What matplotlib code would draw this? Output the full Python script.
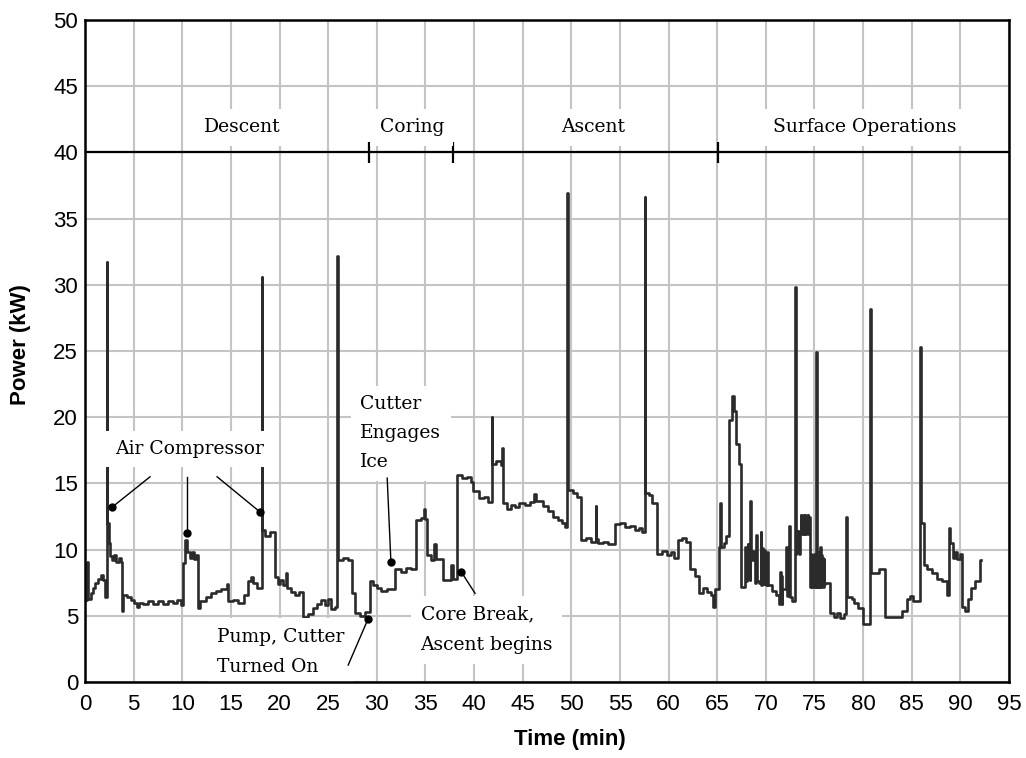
import matplotlib
matplotlib.use("Agg")
import matplotlib.pyplot as plt
from matplotlib import font_manager as fm

# ---------------- data ----------------
descent_t = [0.00, 0.25, 0.35, 0.60, 0.85, 1.05, 1.30, 1.60, 1.85, 2.05, 2.25, 2.30, 2.45, 2.60,
             2.80, 3.00, 3.20, 3.45, 3.65, 3.85, 3.95, 4.35, 4.70, 5.00, 5.30, 5.60, 6.00, 6.50,
             7.00, 7.50, 8.00, 8.50, 9.00, 9.50, 9.90, 10.10, 10.30, 10.50, 10.80, 11.00, 11.20,
             11.40, 11.60, 11.80, 12.40, 13.00, 13.50, 14.00, 14.55, 14.70, 15.20, 15.70, 16.30,
             16.80, 17.10, 17.30, 17.70, 18.15, 18.20, 18.50, 19.00, 19.50, 19.80, 20.10, 20.40,
             20.70, 20.80, 21.20, 21.60, 22.00, 22.40, 22.90, 23.40, 23.90, 24.30, 24.70, 25.00,
             25.30, 25.70, 25.95, 26.00, 26.50, 27.00, 27.50, 27.80, 28.30, 28.80]
descent_p = [6.2, 9.1, 6.3, 6.7, 7.1, 7.5, 7.8, 8.1, 7.7, 6.4, 31.7, 12.0, 10.5, 9.5,
             9.2, 9.6, 9.1, 9.4, 9.1, 5.4, 6.6, 6.4, 6.2, 6.0, 5.7, 6.0, 5.9, 6.1,
             5.9, 6.1, 5.9, 6.1, 6.0, 6.2, 5.8, 9.0, 10.7, 9.8, 9.4, 9.8, 9.3,
             9.6, 5.6, 6.1, 6.4, 6.7, 6.9, 7.0, 7.4, 6.1, 6.2, 6.0, 6.6,
             7.6, 7.9, 7.5, 7.1, 30.6, 11.5, 11.0, 11.3, 7.9, 7.4, 7.7, 7.3,
             8.2, 7.1, 6.8, 6.6, 6.8, 4.9, 5.1, 5.6, 5.9, 6.2, 5.8, 6.3,
             5.5, 5.7, 32.2, 9.2, 9.4, 9.2, 6.7, 5.2, 5.0, 5.3]

coring_t = [29.30, 29.60, 30.00, 30.40, 31.00, 31.90, 32.50, 33.00, 33.50, 34.00, 34.50, 34.90,
            35.00, 35.20, 35.60, 35.90, 36.10, 36.80, 37.60]
coring_p = [7.6, 7.3, 7.1, 6.9, 7.0, 8.5, 8.3, 8.6, 8.5, 12.2, 12.4, 13.1,
            12.3, 9.6, 9.2, 10.4, 9.3, 7.7, 8.8]

ascent_t = [37.80, 38.20, 38.80, 39.30, 39.70, 39.90, 40.50, 41.00, 41.40, 41.80, 41.85, 42.30,
            42.80, 42.90, 43.00, 43.40, 43.80, 44.20, 44.60, 45.20, 45.80, 46.20, 46.40, 47.10,
            47.60, 48.10, 48.60, 49.00, 49.30, 49.60, 49.65, 50.20, 50.60, 51.00, 51.50, 52.00,
            52.50, 52.55, 52.70, 53.30, 53.80, 54.50, 55.00, 55.50, 56.00, 56.50, 57.00, 57.30,
            57.55, 57.60, 58.00, 58.30, 58.80, 59.30, 59.80, 60.30, 60.60, 61.00, 61.40, 61.80,
            62.20, 62.70, 63.10, 63.50, 64.00, 64.40, 64.60, 64.80]
ascent_p = [7.8, 15.6, 15.4, 15.5, 15.1, 14.4, 13.9, 14.0, 13.6, 20.0, 16.5, 16.7,
            16.4, 17.7, 13.5, 13.1, 13.4, 13.2, 13.5, 13.4, 13.6, 14.2, 13.7, 13.3,
            12.9, 12.5, 12.2, 12.0, 11.7, 36.9, 14.5, 14.3, 14.0, 10.7, 10.9, 10.6,
            13.3, 10.8, 10.5, 10.6, 10.4, 11.9, 12.0, 11.7, 11.8, 11.5, 11.6, 11.3,
            36.6, 14.3, 14.1, 13.5, 9.7, 9.9, 9.6, 9.8, 9.4, 10.7, 10.9, 10.6,
            8.5, 8.0, 6.7, 7.1, 6.8, 6.6, 5.7, 7.0]

surface_t = [65.20, 65.30, 65.35, 65.70, 65.90, 66.20, 66.50, 66.70, 66.90, 67.20, 67.40,
             67.90, 67.96, 68.02, 68.08, 68.14, 68.20, 68.26, 68.32, 68.40, 68.45,
             68.51, 68.57, 68.63, 68.69, 68.75, 68.81, 68.90, 69.00, 69.05, 69.30,
             69.50, 69.55, 69.61, 69.67, 69.73, 69.79, 69.85, 69.91, 69.97, 70.03,
             70.09, 70.20, 70.60, 71.00, 71.40, 71.46, 71.52, 71.58, 71.64, 71.70,
             72.10, 72.15, 72.40, 72.45, 72.70, 73.00, 73.05, 73.11, 73.17, 73.23,
             73.29, 73.35, 73.41, 73.47, 73.53, 73.59, 73.65, 73.71, 73.77, 73.83,
             73.89, 73.95, 74.01, 74.07, 74.13, 74.19, 74.25, 74.31, 74.37, 74.43,
             74.55, 74.61, 74.67, 74.73, 74.79, 74.85, 74.91, 74.97, 75.03, 75.10,
             75.15, 75.21, 75.27, 75.33, 75.39, 75.45, 75.51, 75.57, 75.60, 75.66,
             75.72, 75.78, 75.84, 75.90, 75.96, 76.02, 76.10, 76.60, 77.00, 77.30,
             77.60, 78.00, 78.25, 78.30, 78.90, 79.10, 79.50, 80.00, 80.75, 80.85,
             81.60, 82.30, 84.00, 84.50, 84.80, 85.10, 85.85, 85.95, 86.00, 86.30,
             86.60, 87.10, 87.60, 88.10, 88.60, 88.85, 88.95, 89.20, 89.40, 89.70,
             90.00, 90.20, 90.50, 90.80, 91.10, 91.50, 92.05, 92.10]
surface_p = [10.2, 13.5, 10.2, 10.5, 11.0, 19.8, 21.6, 20.5, 18.0, 16.5, 7.2,
             10.2, 7.6, 10.0, 7.8, 10.4, 8.0, 9.9, 7.7, 13.7, 9.8,
             9.2, 9.7, 9.3, 9.9, 9.2, 9.6, 7.5, 11.1, 7.6, 7.5,
             11.3, 7.3, 10.1, 7.5, 9.9, 7.4, 10.0, 7.6, 9.7, 7.3,
             9.8, 7.3, 6.9, 6.6, 5.9, 8.3, 6.0, 8.0, 5.9, 7.0,
             10.2, 6.5, 11.8, 6.4, 6.1, 29.8, 9.7, 11.4, 9.8, 11.3,
             9.9, 11.4, 9.7, 11.2, 11.2, 12.6, 11.3, 12.5, 11.2, 12.6,
             11.4, 12.5, 11.2, 12.6, 11.3, 12.4, 11.2, 12.6, 11.3, 12.5,
             7.2, 9.7, 7.4, 9.6, 7.2, 9.5, 7.3, 9.7, 7.2, 9.4,
             24.9, 7.2, 9.6, 7.3, 9.8, 7.2, 9.5, 7.4, 10.2, 7.2,
             9.6, 7.3, 9.4, 7.2, 9.3, 7.4, 7.5, 5.2, 4.9, 5.2,
             4.8, 5.1, 12.5, 6.4, 6.3, 6.0, 5.6, 4.4, 28.2, 8.2,
             8.5, 4.9, 5.4, 6.3, 6.5, 6.1, 25.3, 25.3, 12.0, 8.8,
             8.5, 8.2, 7.8, 7.6, 6.6, 11.6, 10.5, 9.4, 9.8, 9.3,
             9.7, 5.7, 5.4, 6.3, 7.1, 7.6, 9.2, 9.2]

phase_names = ["Descent", "Coring", "Ascent", "Surface Operations"]
phase_label_t = [16.15, 33.6, 52.2, 80.2]
phase_label_p = 41.9
phase_bounds = [29.2, 37.8, 65.1]
phase_line_p = 40

x_ticks = list(range(0, 96, 5))
y_ticks = list(range(0, 51, 5))

# ---------------- fonts ----------------
available = {f.name for f in fm.fontManager.ttflist}
if "Liberation Sans Narrow" in available:
    tick_font, tick_size = "Liberation Sans Narrow", 18
else:
    tick_font, tick_size = "Liberation Sans", 16
serif = "DejaVu Serif"
note_size = 13.5

# ---------------- figure ----------------
fig = plt.figure(figsize=(10.26, 7.58), dpi=100)
ax = fig.add_axes([85 / 1026, 76 / 758, 924 / 1026, 662 / 758])

t_all = descent_t + coring_t + ascent_t + surface_t
p_all = descent_p + coring_p + ascent_p + surface_p
ax.plot(t_all, p_all, drawstyle="steps-post", color="#2b2b2b", lw=1.9, zorder=3)

ax.set_xlim(0, 95)
ax.set_ylim(0, 50)
ax.set_xticks(x_ticks)
ax.set_yticks(y_ticks)
ax.grid(True, color="#c4c4c4", lw=1.5, zorder=0)
ax.set_axisbelow(True)
for s in ax.spines.values():
    s.set_linewidth(1.8)
    s.set_color("black")
    s.set_zorder(8)
ax.tick_params(length=0, labelsize=tick_size, colors="black")
ax.tick_params(axis="x", pad=9)
ax.tick_params(axis="y", pad=5)
for lab in ax.get_xticklabels() + ax.get_yticklabels():
    lab.set_fontfamily(tick_font)

ax.set_xlabel("Time (min)", fontsize=16, fontweight="bold", family="Liberation Sans", va="center")
ax.xaxis.set_label_coords(0.525, -0.0876)
ax.set_ylabel("Power (kW)", fontsize=16, fontweight="bold", family="Liberation Sans", va="center")
ax.yaxis.set_label_coords(-0.0703, 0.51)

# phase line and labels
ax.axhline(phase_line_p, color="black", lw=1.6, zorder=4)
ax.vlines(phase_bounds, phase_line_p - 0.8, phase_line_p + 0.8, color="black", lw=1.6, zorder=4)
box = dict(boxstyle="square,pad=0.5", fc="white", ec="none")
for name, tx in zip(phase_names, phase_label_t):
    ax.text(tx, phase_label_p, name, ha="center", va="center", family=serif,
            fontsize=note_size, bbox=box, zorder=5)

# annotations
ax.text(10.8, 17.6, "Air Compressor", ha="center", va="center", family=serif,
        fontsize=note_size, bbox=box, zorder=5)
ax.text(28.3, 18.8, "Cutter\nEngages\nIce", ha="left", va="center", family=serif,
        fontsize=note_size, linespacing=1.8, bbox=box, zorder=5)
ax.text(13.6, 2.27, "Pump, Cutter\nTurned On", ha="left", va="center", family=serif,
        fontsize=note_size, linespacing=1.9, bbox=box, zorder=5)
ax.text(34.5, 3.93, "Core Break,\nAscent begins", ha="left", va="center", family=serif,
        fontsize=note_size, linespacing=1.9, bbox=box, zorder=5)

pointers = [((6.69, 15.5), (2.78, 13.2)),
            ((10.49, 15.5), (10.49, 11.25)),
            ((13.58, 15.5), (18.0, 12.84)),
            ((27.06, 1.28), (29.1, 4.76)),
            ((31.07, 15.4), (31.45, 9.09)),
            ((40.1, 6.7), (38.7, 8.3))]
for (x0, y0), (x1, y1) in pointers:
    ax.plot([x0, x1], [y0, y1], color="black", lw=1.0, zorder=6)
    ax.plot([x1], [y1], "o", color="black", ms=5, zorder=6)

fig.savefig("out.png", dpi=100, facecolor="white")
